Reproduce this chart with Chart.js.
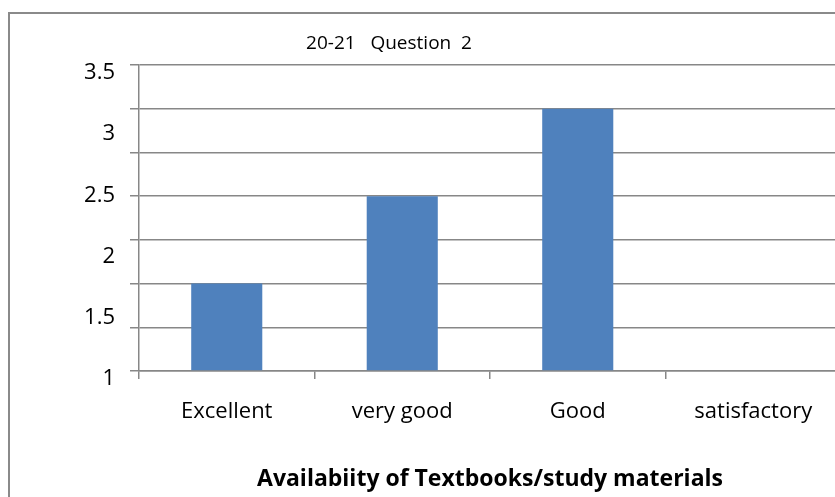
<!DOCTYPE html>
<html lang="en">
<head>
    <meta charset="UTF-8">
    <title>20-21 Question 2</title>
    <script src="https://cdn.jsdelivr.net/npm/chart.js"></script>
    <style>
        html, body { margin: 0; padding: 0; overflow: hidden; background: #fff; }
        #frame {
            position: absolute; left: 8px; top: 12px; width: 900px; height: 600px;
            border-left: 2px solid #8a8a8a; border-top: 2px solid #8a8a8a;
        }
        canvas { position: absolute; left: 0; top: 0; }
    </style>
</head>
<body>
    <div id="frame"></div>
    <canvas id="myChart" width="860" height="497"></canvas>
    <script>
        const categories = ['Excellent', 'very good', 'Good', 'satisfactory'];
        const responses = [1, 2, 3, 0];
        const axisLabels = [1, 1.5, 2, 2.5, 3, 3.5];
        const chartTitle = '20-21   Question  2';
        const xTitle = 'Availabiity of Textbooks/study materials';

        const font = "'Open Sans', sans-serif";
        const gridColor = '#878787';

        // titles are placed like in the original (chart title is not centred)
        const titles = {
            id: 'titles',
            afterDraw(chart) {
                const c = chart.ctx;
                const area = chart.chartArea;
                c.save();
                c.fillStyle = '#000';
                c.textAlign = 'center';
                c.textBaseline = 'middle';
                c.font = '19px ' + font;
                c.fillText(chartTitle, 389, 44);
                c.font = 'bold 23px ' + font;
                c.fillText(xTitle, (area.left + area.right) / 2, 479);
                c.restore();
            }
        };

        const ctx = document.getElementById('myChart').getContext('2d');
        const myChart = new Chart(ctx, {
            type: 'bar',
            data: {
                labels: categories,
                datasets: [{
                    data: responses,
                    backgroundColor: '#4f81bd',
                    borderWidth: 0,
                    categoryPercentage: 1,
                    barPercentage: 0.405
                }]
            },
            options: {
                responsive: false,
                animation: false,
                layout: { padding: { left: 0, top: 65, right: 19, bottom: 0 } },
                plugins: {
                    legend: { display: false },
                    tooltip: { enabled: false }
                },
                scales: {
                    x: {
                        offset: true,
                        grid: { drawOnChartArea: false, color: gridColor, lineWidth: 1.5, tickLength: 8, offset: true },
                        border: { color: gridColor, width: 1.5 },
                        ticks: { color: '#000', font: { family: font, size: 22 }, padding: 20 },
                        afterFit(scale) { scale.height = 126; }
                    },
                    y: {
                        position: 'left',
                        weight: 0,
                        min: 0,
                        max: 3.5,
                        ticks: { stepSize: 0.5, display: false },
                        grid: { color: gridColor, lineWidth: 1.5, tickLength: 9 },
                        border: { color: gridColor, width: 1.5 },
                        afterFit(scale) { scale.width = 9; }
                    },
                    yl: {
                        position: 'left',
                        weight: 1,
                        min: axisLabels[0],
                        max: axisLabels[axisLabels.length - 1],
                        afterBuildTicks(scale) { scale.ticks = axisLabels.map(v => ({ value: v })); },
                        ticks: {
                            color: '#000',
                            font: { family: font, size: 22 },
                            padding: 15,
                            labelOffset: 8,
                            callback: v => String(v)
                        },
                        grid: { display: false, drawTicks: false },
                        border: { display: false },
                        afterFit(scale) { scale.width = 130; }
                    }
                }
            },
            plugins: [titles]
        });
    </script>
</body>
</html>
